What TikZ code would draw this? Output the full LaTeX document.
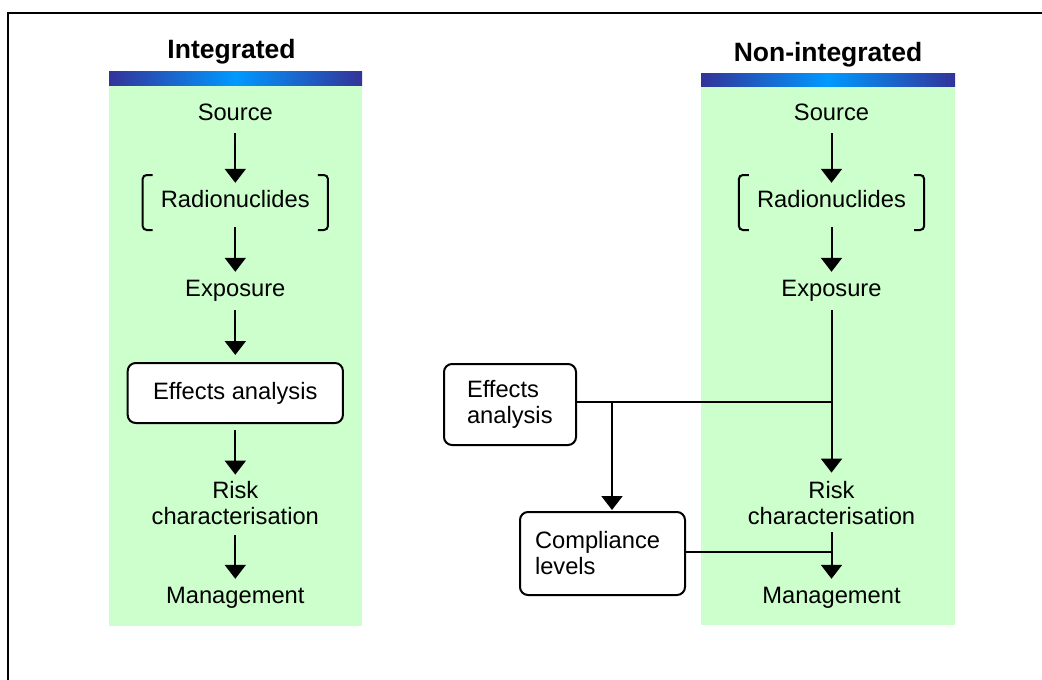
\documentclass[tikz,border=0pt]{standalone}
\usepackage{fontspec}
\setmainfont{Liberation Sans}
\usepackage{tikz}
\usepackage{xcolor}
\usetikzlibrary{arrows.meta, positioning}

\definecolor{panelgreen}{HTML}{CCFFCC}
\definecolor{barnavy}{HTML}{333399}
\definecolor{barblue}{HTML}{0099FF}

\tikzset{
    stage/.style={font=\fontsize{23.7}{26}\selectfont, text height=17pt, text depth=5pt, inner sep=0pt},
    stagetwo/.style={font=\fontsize{23.7}{26}\selectfont, align=center, inner sep=0pt},
    effbox/.style={draw, line width=2pt, rounded corners=8pt, fill=white, font=\fontsize{23.7}{26}\selectfont},
    title/.style={font=\bfseries\fontsize{26.5}{30}\selectfont, anchor=base, inner sep=0pt},
    flow/.style={-{Triangle[width=21pt,length=14pt]}, line width=2pt, shorten <=7pt, shorten >=7pt},
    wire/.style={line width=2pt},
    brk/.style={line width=2pt, rounded corners=4pt},
    topbar/.style={left color=barnavy, right color=barnavy, middle color=barblue}
}

\begin{document}
\begin{tikzpicture}[x=1pt, y=-1pt]
    \useasboundingbox (0,0) rectangle (1042,680);

    % Frame
    \draw[line width=2pt] (8,13) rectangle (1080,720);

    % Panels
    \fill[panelgreen] (109,85) rectangle (362,626);
    \shade[topbar] (109,71) rectangle (362,85.5);
    \fill[panelgreen] (701,86.5) rectangle (955,625);
    \shade[topbar] (701,73) rectangle (955,86.5);

    \node[title] (titleL) at (231.5,58) {Integrated};
    \node[title] (titleR) at (828,61) {Non-integrated};

    % Integrated
    \node[stage] (srcL) at (235.3,114) {Source};
    \node[stage] (radL) at (235.3,201) {Radionuclides};
    \node[stage] (expL) at (235.3,290) {Exposure};
    \node[effbox, text height=17pt, text depth=5pt, inner xsep=25.5pt, minimum height=60pt] (effL) at (235.3,393) {Effects analysis};
    \node[stagetwo] (riskL) at (235.3,503.5) {Risk\\characterisation};
    \node[stage] (mgtL) at (235.3,597) {Management};

    \draw[flow, shorten <=8pt] (srcL) -- (radL);
    \draw[flow, shorten <=15pt] (radL) -- (expL);
    \draw[flow, shorten <=9pt] (expL) -- (effL);
    \draw[flow, shorten <=6pt] (effL) -- (riskL);
    \draw[flow, shorten <=10pt] (riskL) -- (mgtL);

    % Non-integrated
    \node[stage] (srcR) at (831.5,114) {Source};
    \node[stage] (radR) at (831.5,201) {Radionuclides};
    \node[stage] (expR) at (831.5,290) {Exposure};
    \node[stagetwo] (riskR) at (831.5,503.5) {Risk\\characterisation};
    \node[stage] (mgtR) at (831.5,597) {Management};
    \node[effbox, text width=86pt, align=left, inner xsep=23pt, minimum height=81pt] (effR) at (510,404.5) {Effects\\analysis};
    \node[effbox, text width=135pt, align=left, inner xsep=15pt, minimum height=83pt] (compR) at (602.5,553.5) {Compliance\\levels};

    \draw[flow, shorten <=8pt] (srcR) -- (radR);
    \draw[flow, shorten <=15pt] (radR) -- (expR);
    \draw[flow, shorten <=9pt, shorten >=9pt] (expR) -- (riskR);
    \draw[flow] (riskR) -- (mgtR);

    \draw[wire] ([yshift=2.5pt]effR.east) coordinate (effOut) -- (effOut -| expR);
    \coordinate (effTap) at (612,402);
    \draw[flow, shorten <=0pt, shorten >=1pt] (effTap) -- (effTap |- compR.north);
    \draw[wire] ([yshift=1.5pt]compR.east) coordinate (compOut) -- (compOut -| riskR);

    % Brackets
    \foreach \r in {radL, radR} {
        \draw[brk] ([xshift=-8pt,yshift=26pt]\r.west) -- ++(-10,0) -- ++(0,55) -- ++(10,0);
        \draw[brk] ([xshift=8pt,yshift=26pt]\r.east) -- ++(10,0) -- ++(0,55) -- ++(-10,0);
    }
\end{tikzpicture}
\end{document}
